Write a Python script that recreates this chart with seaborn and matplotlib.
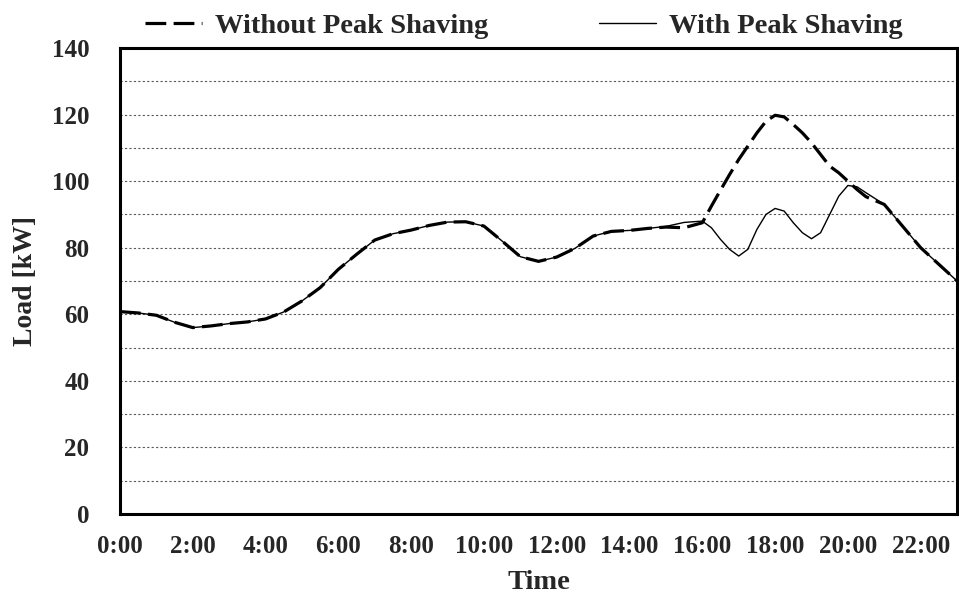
import matplotlib
matplotlib.use('Agg')
import matplotlib.pyplot as plt
import seaborn as sns
import pandas as pd

# half-hour steps to 16:00, quarter-hour through the evening peak, then half-hour to 23:00
hours = [0.0, 0.5, 1.0, 1.5, 2.0, 2.5, 3.0, 3.5, 4.0, 4.5, 5.0, 5.5, 6.0, 6.5,
         7.0, 7.5, 8.0, 8.5, 9.0, 9.5, 10.0, 10.5, 11.0, 11.5, 12.0, 12.5,
         13.0, 13.5, 14.0, 14.5, 15.0, 15.5, 16.0,
         16.25, 16.5, 16.75, 17.0, 17.25, 17.5, 17.75, 18.0, 18.25, 18.5,
         18.75, 19.0, 19.25, 19.5, 19.75, 20.0, 20.25, 20.5,
         21.0, 21.5, 22.0, 22.5, 23.0]

with_ps = [60.8, 60.4, 59.7, 57.6, 56.0, 56.5, 57.2, 57.7, 58.6, 60.7,
           64.0, 68.0, 73.5, 78.0, 82.3, 84.2, 85.3, 86.7, 87.7, 87.8,
           86.5, 82.0, 77.3, 75.9, 77.2, 79.8, 83.5, 84.9, 85.2, 85.8,
           86.4, 87.6, 88.0,
           86.0, 82.5, 79.5, 77.5, 79.5, 85.5, 90.0, 91.8, 91.0, 87.5,
           84.5, 82.7, 84.5, 90.0, 95.5, 98.7, 98.3, 96.5,
           93.0, 86.5, 80.0, 75.0, 70.0]

without_ps = [60.8, 60.4, 59.7, 57.6, 56.0, 56.5, 57.2, 57.7, 58.6, 60.7,
              64.0, 68.0, 73.5, 78.0, 82.3, 84.2, 85.3, 86.7, 87.7, 87.8,
              86.5, 82.0, 77.3, 75.9, 77.2, 79.8, 83.5, 84.9, 85.2, 85.8,
              86.2, 86.0, 87.5,
              92.5, 97.3, 102.0, 106.5, 110.5, 114.5, 118.0, 119.8, 119.3, 117.0,
              114.5, 111.5, 108.0, 104.5, 102.5, 100.0, 97.5, 95.3,
              93.0, 86.5, 80.0, 75.0, 70.0]

tick_hours = list(range(0, 23, 2))
tick_labels = [f'{h}:00' for h in tick_hours]

df = pd.DataFrame({'hour': hours, 'with': with_ps, 'without': without_ps})

sns.set_theme(style='white')
plt.rcParams['font.family'] = ['Liberation Serif', 'DejaVu Serif']
plt.rcParams['font.weight'] = 'bold'

fig = plt.figure(figsize=(9.59, 5.98), dpi=100)
ax = fig.add_axes([0.1251, 0.1405, 0.8729, 0.7792])

sns.lineplot(data=df, x='hour', y='without', ax=ax, color='black', lw=2.3,
             label='Without Peak Shaving')
ax.lines[-1].set_dashes([6.5, 2.3])
sns.lineplot(data=df, x='hour', y='with', ax=ax, color='black', lw=1.0,
             label='With Peak Shaving')

ax.set_xlim(0, 23)
ax.set_ylim(0, 140)
ax.set_xticks(range(0, 24), minor=True)
ax.set_xticks(tick_hours)
ax.set_xticklabels(tick_labels)
ax.set_yticks(range(0, 141, 20))

ax.grid(False)
for y in range(10, 140, 10):
    ax.axhline(y, color='0.35', lw=0.8, ls=(0, (2, 2)), zorder=0)

for s in ax.spines.values():
    s.set_visible(True)
    s.set_color('black')
    s.set_linewidth(2.2)

ax.tick_params(axis='x', which='both', direction='out', length=4,
               width=1, color='0.5')
ax.tick_params(axis='x', which='major', labelsize=18, pad=11)
ax.tick_params(axis='y', which='major', direction='out', length=6,
               width=1, color='0.5', labelsize=18, pad=16)
ax.tick_params(axis='y', which='minor', length=0)
for t in ax.get_xticklabels() + ax.get_yticklabels():
    t.set_fontweight('bold')

ax.set_xlabel('Time', fontsize=20.5, fontweight='bold', labelpad=9)
ax.set_ylabel('Load [kW]', fontsize=20, fontweight='bold', labelpad=10)

ax.legend(loc='lower center', bbox_to_anchor=(0.482, 1.02), ncol=2,
          frameon=False, handlelength=2.0, handletextpad=0.45,
          columnspacing=3.9, prop={'weight': 'bold', 'size': 20.5},
          borderaxespad=0, borderpad=0)

fig.savefig('out.png', dpi=100)
